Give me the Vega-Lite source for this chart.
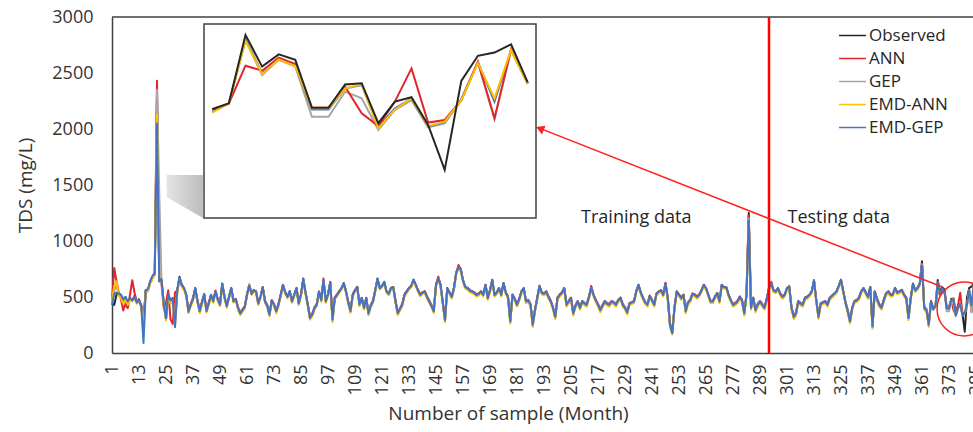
{
"$schema": "https://vega.github.io/schema/vega-lite/v6.json",
"width": 861, "height": 336,
"autosize": {"type": "none"},
"padding": {"left": 112, "top": 17, "right": 0, "bottom": 79},
"background": "white",
"config": {"view": {"stroke": null}, "font": "Open Sans", "axisX": {"labelOverlap": false, "labelFlush": false, "labelBound": false}},
"datasets": {
"d": [
{"s":1,"O":440,"A":470,"G":450,"EA":470,"EG":430},
{"s":2,"O":430,"A":760,"G":560,"EA":600,"EG":530},
{"s":3,"O":520,"A":640,"G":600,"EA":640,"EG":540},
{"s":4,"O":530,"A":540,"G":520,"EA":510,"EG":530},
{"s":5,"O":515,"A":480,"G":500,"EA":490,"EG":520},
{"s":6,"O":470,"A":380,"G":450,"EA":440,"EG":480},
{"s":7,"O":500,"A":440,"G":480,"EA":470,"EG":500},
{"s":8,"O":440,"A":400,"G":450,"EA":430,"EG":460},
{"s":9,"O":490,"A":520,"G":480,"EA":470,"EG":490},
{"s":10,"O":470,"A":650,"G":480,"EA":460,"EG":470},
{"s":11,"O":510,"A":540,"G":500,"EA":490,"EG":500},
{"s":12,"O":455,"A":460,"G":450,"EA":440,"EG":450},
{"s":13,"O":480,"A":470,"G":470,"EA":460,"EG":470},
{"s":14,"O":420,"A":430,"G":400,"EA":410,"EG":420},
{"s":15,"O":280,"A":300,"G":250,"EA":200,"EG":90},
{"s":16,"O":560,"A":560,"G":550,"EA":540,"EG":560},
{"s":17,"O":570,"A":560,"G":560,"EA":550,"EG":570},
{"s":18,"O":640,"A":630,"G":630,"EA":620,"EG":640},
{"s":19,"O":680,"A":670,"G":670,"EA":660,"EG":690},
{"s":20,"O":720,"A":700,"G":700,"EA":700,"EG":710},
{"s":21,"O":2300,"A":2430,"G":2350,"EA":2130,"EG":2050},
{"s":22,"O":640,"A":660,"G":1430,"EA":660,"EG":640},
{"s":23,"O":650,"A":620,"G":640,"EA":630,"EG":660},
{"s":24,"O":450,"A":400,"G":440,"EA":420,"EG":430},
{"s":25,"O":300,"A":450,"G":320,"EA":290,"EG":310},
{"s":26,"O":520,"A":560,"G":500,"EA":500,"EG":520},
{"s":27,"O":470,"A":300,"G":450,"EA":440,"EG":470},
{"s":28,"O":490,"A":260,"G":480,"EA":470,"EG":480},
{"s":29,"O":300,"A":540,"G":240,"EA":260,"EG":230},
{"s":30,"O":560,"A":560,"G":540,"EA":530,"EG":560},
{"s":31,"O":680,"A":665,"G":670,"EA":655,"EG":672},
{"s":32,"O":610,"A":605,"G":600,"EA":590,"EG":606},
{"s":33,"O":580,"A":572,"G":575,"EA":560,"EG":578},
{"s":34,"O":520,"A":515,"G":512,"EA":500,"EG":518},
{"s":35,"O":370,"A":385,"G":372,"EA":355,"EG":368},
{"s":36,"O":430,"A":440,"G":428,"EA":415,"EG":430},
{"s":37,"O":480,"A":495,"G":478,"EA":465,"EG":482},
{"s":38,"O":580,"A":572,"G":574,"EA":562,"EG":578},
{"s":39,"O":460,"A":472,"G":458,"EA":445,"EG":462},
{"s":40,"O":370,"A":388,"G":376,"EA":358,"EG":372},
{"s":41,"O":450,"A":462,"G":448,"EA":436,"EG":452},
{"s":42,"O":520,"A":528,"G":516,"EA":505,"EG":520},
{"s":43,"O":370,"A":382,"G":378,"EA":362,"EG":376},
{"s":44,"O":440,"A":452,"G":438,"EA":428,"EG":442},
{"s":45,"O":520,"A":512,"G":515,"EA":502,"EG":518},
{"s":46,"O":460,"A":470,"G":458,"EA":448,"EG":462},
{"s":47,"O":550,"A":558,"G":545,"EA":536,"EG":548},
{"s":48,"O":480,"A":482,"G":472,"EA":462,"EG":476},
{"s":49,"O":430,"A":442,"G":428,"EA":418,"EG":432},
{"s":50,"O":620,"A":610,"G":612,"EA":600,"EG":618},
{"s":51,"O":500,"A":502,"G":496,"EA":488,"EG":500},
{"s":52,"O":415,"A":424,"G":418,"EA":405,"EG":418},
{"s":53,"O":500,"A":502,"G":494,"EA":488,"EG":498},
{"s":54,"O":580,"A":572,"G":575,"EA":562,"EG":578},
{"s":55,"O":460,"A":472,"G":464,"EA":450,"EG":462},
{"s":56,"O":480,"A":484,"G":478,"EA":468,"EG":480},
{"s":57,"O":400,"A":412,"G":404,"EA":388,"EG":402},
{"s":58,"O":350,"A":362,"G":356,"EA":338,"EG":352},
{"s":59,"O":380,"A":392,"G":384,"EA":368,"EG":382},
{"s":60,"O":410,"A":420,"G":412,"EA":398,"EG":410},
{"s":61,"O":520,"A":522,"G":515,"EA":508,"EG":518},
{"s":62,"O":610,"A":602,"G":606,"EA":618,"EG":604},
{"s":63,"O":530,"A":532,"G":524,"EA":518,"EG":528},
{"s":64,"O":560,"A":562,"G":554,"EA":548,"EG":558},
{"s":65,"O":550,"A":552,"G":546,"EA":538,"EG":548},
{"s":66,"O":440,"A":452,"G":444,"EA":428,"EG":442},
{"s":67,"O":500,"A":502,"G":496,"EA":488,"EG":500},
{"s":68,"O":590,"A":582,"G":586,"EA":572,"EG":588},
{"s":69,"O":460,"A":470,"G":462,"EA":448,"EG":460},
{"s":70,"O":420,"A":432,"G":424,"EA":408,"EG":420},
{"s":71,"O":340,"A":358,"G":346,"EA":328,"EG":342},
{"s":72,"O":470,"A":472,"G":466,"EA":458,"EG":470},
{"s":73,"O":430,"A":440,"G":432,"EA":418,"EG":430},
{"s":74,"O":370,"A":380,"G":376,"EA":352,"EG":372},
{"s":75,"O":430,"A":442,"G":432,"EA":418,"EG":432},
{"s":76,"O":520,"A":522,"G":516,"EA":508,"EG":520},
{"s":77,"O":610,"A":602,"G":606,"EA":590,"EG":608},
{"s":78,"O":540,"A":542,"G":536,"EA":528,"EG":540},
{"s":79,"O":500,"A":502,"G":496,"EA":488,"EG":500},
{"s":80,"O":550,"A":552,"G":546,"EA":538,"EG":550},
{"s":81,"O":460,"A":470,"G":462,"EA":448,"EG":460},
{"s":82,"O":520,"A":522,"G":516,"EA":508,"EG":518},
{"s":83,"O":580,"A":576,"G":574,"EA":565,"EG":578},
{"s":84,"O":440,"A":452,"G":444,"EA":428,"EG":442},
{"s":85,"O":520,"A":522,"G":516,"EA":508,"EG":520},
{"s":86,"O":665,"A":652,"G":656,"EA":645,"EG":660},
{"s":87,"O":540,"A":542,"G":536,"EA":528,"EG":540},
{"s":88,"O":430,"A":440,"G":432,"EA":418,"EG":430},
{"s":89,"O":310,"A":330,"G":312,"EA":298,"EG":312},
{"s":90,"O":340,"A":352,"G":342,"EA":328,"EG":342},
{"s":91,"O":400,"A":410,"G":402,"EA":388,"EG":400},
{"s":92,"O":430,"A":440,"G":432,"EA":418,"EG":430},
{"s":93,"O":550,"A":546,"G":545,"EA":535,"EG":548},
{"s":94,"O":470,"A":480,"G":472,"EA":458,"EG":470},
{"s":95,"O":650,"A":665,"G":646,"EA":635,"EG":648},
{"s":96,"O":460,"A":470,"G":462,"EA":448,"EG":460},
{"s":97,"O":520,"A":522,"G":516,"EA":505,"EG":518},
{"s":98,"O":635,"A":626,"G":630,"EA":620,"EG":632},
{"s":99,"O":295,"A":312,"G":292,"EA":275,"EG":298},
{"s":100,"O":490,"A":496,"G":486,"EA":476,"EG":490},
{"s":101,"O":520,"A":524,"G":515,"EA":505,"EG":518},
{"s":102,"O":550,"A":552,"G":546,"EA":536,"EG":548},
{"s":103,"O":580,"A":576,"G":576,"EA":565,"EG":578},
{"s":104,"O":625,"A":618,"G":620,"EA":608,"EG":620},
{"s":105,"O":550,"A":552,"G":546,"EA":536,"EG":548},
{"s":106,"O":450,"A":460,"G":452,"EA":438,"EG":450},
{"s":107,"O":370,"A":385,"G":374,"EA":358,"EG":375},
{"s":108,"O":520,"A":524,"G":516,"EA":505,"EG":518},
{"s":109,"O":560,"A":562,"G":556,"EA":546,"EG":558},
{"s":110,"O":590,"A":584,"G":586,"EA":575,"EG":588},
{"s":111,"O":430,"A":442,"G":434,"EA":418,"EG":432},
{"s":112,"O":490,"A":494,"G":486,"EA":476,"EG":490},
{"s":113,"O":400,"A":412,"G":404,"EA":388,"EG":402},
{"s":114,"O":490,"A":494,"G":486,"EA":476,"EG":488},
{"s":115,"O":350,"A":366,"G":356,"EA":338,"EG":352},
{"s":116,"O":420,"A":430,"G":424,"EA":408,"EG":422},
{"s":117,"O":460,"A":468,"G":462,"EA":448,"EG":460},
{"s":118,"O":560,"A":562,"G":556,"EA":546,"EG":558},
{"s":119,"O":665,"A":655,"G":660,"EA":645,"EG":660},
{"s":120,"O":580,"A":582,"G":576,"EA":566,"EG":578},
{"s":121,"O":600,"A":598,"G":596,"EA":586,"EG":598},
{"s":122,"O":635,"A":628,"G":630,"EA":618,"EG":632},
{"s":123,"O":550,"A":552,"G":546,"EA":536,"EG":548},
{"s":124,"O":530,"A":532,"G":526,"EA":516,"EG":528},
{"s":125,"O":580,"A":582,"G":576,"EA":566,"EG":578},
{"s":126,"O":590,"A":586,"G":586,"EA":576,"EG":588},
{"s":127,"O":460,"A":470,"G":462,"EA":448,"EG":460},
{"s":128,"O":350,"A":366,"G":356,"EA":338,"EG":354},
{"s":129,"O":390,"A":400,"G":394,"EA":378,"EG":392},
{"s":130,"O":430,"A":440,"G":432,"EA":418,"EG":430},
{"s":131,"O":520,"A":524,"G":516,"EA":506,"EG":518},
{"s":132,"O":550,"A":552,"G":546,"EA":536,"EG":548},
{"s":133,"O":580,"A":582,"G":576,"EA":566,"EG":578},
{"s":134,"O":600,"A":598,"G":596,"EA":586,"EG":598},
{"s":135,"O":655,"A":648,"G":650,"EA":636,"EG":652},
{"s":136,"O":610,"A":606,"G":606,"EA":594,"EG":608},
{"s":137,"O":560,"A":562,"G":556,"EA":546,"EG":558},
{"s":138,"O":520,"A":524,"G":516,"EA":506,"EG":518},
{"s":139,"O":540,"A":542,"G":536,"EA":526,"EG":538},
{"s":140,"O":550,"A":550,"G":546,"EA":536,"EG":548},
{"s":141,"O":500,"A":506,"G":496,"EA":486,"EG":500},
{"s":142,"O":460,"A":468,"G":462,"EA":446,"EG":460},
{"s":143,"O":420,"A":430,"G":424,"EA":406,"EG":420},
{"s":144,"O":370,"A":384,"G":376,"EA":356,"EG":372},
{"s":145,"O":610,"A":602,"G":604,"EA":592,"EG":606},
{"s":146,"O":670,"A":682,"G":664,"EA":650,"EG":664},
{"s":147,"O":610,"A":606,"G":604,"EA":594,"EG":608},
{"s":148,"O":450,"A":460,"G":452,"EA":436,"EG":450},
{"s":149,"O":290,"A":305,"G":294,"EA":275,"EG":292},
{"s":150,"O":580,"A":576,"G":574,"EA":562,"EG":576},
{"s":151,"O":540,"A":542,"G":536,"EA":526,"EG":538},
{"s":152,"O":500,"A":506,"G":496,"EA":486,"EG":500},
{"s":153,"O":580,"A":582,"G":576,"EA":566,"EG":578},
{"s":154,"O":720,"A":716,"G":714,"EA":700,"EG":716},
{"s":155,"O":770,"A":785,"G":764,"EA":748,"EG":764},
{"s":156,"O":750,"A":746,"G":744,"EA":730,"EG":746},
{"s":157,"O":650,"A":648,"G":644,"EA":632,"EG":646},
{"s":158,"O":590,"A":588,"G":586,"EA":574,"EG":588},
{"s":159,"O":580,"A":582,"G":576,"EA":564,"EG":578},
{"s":160,"O":560,"A":562,"G":556,"EA":544,"EG":558},
{"s":161,"O":550,"A":552,"G":546,"EA":534,"EG":548},
{"s":162,"O":540,"A":542,"G":536,"EA":524,"EG":538},
{"s":163,"O":520,"A":524,"G":516,"EA":504,"EG":518},
{"s":164,"O":530,"A":532,"G":526,"EA":514,"EG":528},
{"s":165,"O":550,"A":550,"G":546,"EA":534,"EG":548},
{"s":166,"O":520,"A":524,"G":516,"EA":504,"EG":518},
{"s":167,"O":610,"A":604,"G":604,"EA":594,"EG":606},
{"s":168,"O":490,"A":498,"G":486,"EA":474,"EG":490},
{"s":169,"O":560,"A":562,"G":556,"EA":544,"EG":558},
{"s":170,"O":655,"A":648,"G":650,"EA":636,"EG":652},
{"s":171,"O":520,"A":524,"G":516,"EA":504,"EG":518},
{"s":172,"O":540,"A":542,"G":536,"EA":524,"EG":538},
{"s":173,"O":580,"A":578,"G":576,"EA":564,"EG":578},
{"s":174,"O":520,"A":524,"G":516,"EA":504,"EG":518},
{"s":175,"O":625,"A":620,"G":620,"EA":606,"EG":622},
{"s":176,"O":540,"A":542,"G":536,"EA":524,"EG":538},
{"s":177,"O":500,"A":506,"G":496,"EA":484,"EG":500},
{"s":178,"O":280,"A":298,"G":284,"EA":262,"EG":282},
{"s":179,"O":520,"A":522,"G":516,"EA":504,"EG":518},
{"s":180,"O":480,"A":486,"G":476,"EA":464,"EG":480},
{"s":181,"O":430,"A":440,"G":434,"EA":414,"EG":430},
{"s":182,"O":480,"A":486,"G":476,"EA":464,"EG":480},
{"s":183,"O":550,"A":550,"G":546,"EA":534,"EG":548},
{"s":184,"O":580,"A":576,"G":576,"EA":564,"EG":578},
{"s":185,"O":460,"A":468,"G":462,"EA":446,"EG":460},
{"s":186,"O":470,"A":476,"G":466,"EA":454,"EG":470},
{"s":187,"O":430,"A":440,"G":434,"EA":414,"EG":430},
{"s":188,"O":250,"A":268,"G":254,"EA":232,"EG":252},
{"s":189,"O":380,"A":392,"G":384,"EA":366,"EG":382},
{"s":190,"O":490,"A":496,"G":486,"EA":474,"EG":490},
{"s":191,"O":600,"A":596,"G":596,"EA":582,"EG":596},
{"s":192,"O":540,"A":542,"G":536,"EA":524,"EG":538},
{"s":193,"O":530,"A":532,"G":526,"EA":514,"EG":528},
{"s":194,"O":550,"A":550,"G":546,"EA":534,"EG":548},
{"s":195,"O":500,"A":506,"G":496,"EA":484,"EG":500},
{"s":196,"O":460,"A":468,"G":462,"EA":446,"EG":460},
{"s":197,"O":400,"A":410,"G":404,"EA":386,"EG":402},
{"s":198,"O":320,"A":336,"G":326,"EA":304,"EG":322},
{"s":199,"O":490,"A":496,"G":486,"EA":474,"EG":490},
{"s":200,"O":520,"A":522,"G":516,"EA":504,"EG":518},
{"s":201,"O":540,"A":542,"G":536,"EA":524,"EG":538},
{"s":202,"O":580,"A":576,"G":576,"EA":564,"EG":578},
{"s":203,"O":430,"A":440,"G":434,"EA":414,"EG":430},
{"s":204,"O":460,"A":468,"G":462,"EA":446,"EG":460},
{"s":205,"O":490,"A":496,"G":486,"EA":474,"EG":490},
{"s":206,"O":350,"A":364,"G":356,"EA":334,"EG":352},
{"s":207,"O":420,"A":430,"G":424,"EA":406,"EG":420},
{"s":208,"O":460,"A":466,"G":462,"EA":446,"EG":460},
{"s":209,"O":400,"A":410,"G":404,"EA":386,"EG":402},
{"s":210,"O":460,"A":466,"G":462,"EA":446,"EG":460},
{"s":211,"O":440,"A":448,"G":442,"EA":426,"EG":440},
{"s":212,"O":430,"A":440,"G":434,"EA":414,"EG":430},
{"s":213,"O":500,"A":506,"G":496,"EA":484,"EG":500},
{"s":214,"O":585,"A":598,"G":580,"EA":566,"EG":580},
{"s":215,"O":520,"A":522,"G":516,"EA":504,"EG":518},
{"s":216,"O":470,"A":476,"G":466,"EA":454,"EG":470},
{"s":217,"O":430,"A":440,"G":434,"EA":414,"EG":430},
{"s":218,"O":380,"A":392,"G":386,"EA":364,"EG":382},
{"s":219,"O":420,"A":430,"G":424,"EA":406,"EG":420},
{"s":220,"O":460,"A":466,"G":462,"EA":446,"EG":460},
{"s":221,"O":440,"A":448,"G":442,"EA":426,"EG":440},
{"s":222,"O":430,"A":440,"G":434,"EA":414,"EG":430},
{"s":223,"O":460,"A":466,"G":462,"EA":446,"EG":460},
{"s":224,"O":450,"A":456,"G":452,"EA":436,"EG":450},
{"s":225,"O":430,"A":440,"G":434,"EA":414,"EG":430},
{"s":226,"O":470,"A":476,"G":466,"EA":454,"EG":470},
{"s":227,"O":495,"A":492,"G":488,"EA":478,"EG":490},
{"s":228,"O":430,"A":440,"G":434,"EA":414,"EG":430},
{"s":229,"O":400,"A":410,"G":404,"EA":386,"EG":402},
{"s":230,"O":360,"A":374,"G":366,"EA":344,"EG":362},
{"s":231,"O":440,"A":448,"G":442,"EA":426,"EG":440},
{"s":232,"O":450,"A":456,"G":452,"EA":436,"EG":450},
{"s":233,"O":460,"A":466,"G":462,"EA":446,"EG":460},
{"s":234,"O":550,"A":550,"G":546,"EA":534,"EG":548},
{"s":235,"O":610,"A":604,"G":604,"EA":592,"EG":606},
{"s":236,"O":540,"A":542,"G":536,"EA":524,"EG":538},
{"s":237,"O":490,"A":496,"G":486,"EA":474,"EG":490},
{"s":238,"O":450,"A":456,"G":452,"EA":436,"EG":450},
{"s":239,"O":430,"A":440,"G":434,"EA":414,"EG":430},
{"s":240,"O":510,"A":514,"G":506,"EA":494,"EG":510},
{"s":241,"O":470,"A":476,"G":466,"EA":454,"EG":470},
{"s":242,"O":430,"A":440,"G":434,"EA":414,"EG":430},
{"s":243,"O":530,"A":532,"G":526,"EA":514,"EG":528},
{"s":244,"O":550,"A":550,"G":546,"EA":534,"EG":548},
{"s":245,"O":560,"A":560,"G":556,"EA":544,"EG":558},
{"s":246,"O":520,"A":524,"G":516,"EA":504,"EG":518},
{"s":247,"O":620,"A":628,"G":614,"EA":602,"EG":616},
{"s":248,"O":490,"A":496,"G":486,"EA":474,"EG":490},
{"s":249,"O":250,"A":266,"G":254,"EA":234,"EG":248},
{"s":250,"O":180,"A":198,"G":184,"EA":166,"EG":176},
{"s":251,"O":400,"A":410,"G":404,"EA":386,"EG":402},
{"s":252,"O":550,"A":550,"G":546,"EA":534,"EG":548},
{"s":253,"O":520,"A":524,"G":516,"EA":504,"EG":518},
{"s":254,"O":490,"A":496,"G":486,"EA":474,"EG":490},
{"s":255,"O":520,"A":522,"G":516,"EA":504,"EG":518},
{"s":256,"O":370,"A":384,"G":376,"EA":354,"EG":372},
{"s":257,"O":450,"A":456,"G":452,"EA":436,"EG":450},
{"s":258,"O":470,"A":476,"G":466,"EA":454,"EG":470},
{"s":259,"O":530,"A":532,"G":526,"EA":514,"EG":528},
{"s":260,"O":520,"A":524,"G":516,"EA":504,"EG":518},
{"s":261,"O":500,"A":506,"G":496,"EA":484,"EG":500},
{"s":262,"O":520,"A":522,"G":516,"EA":504,"EG":518},
{"s":263,"O":560,"A":560,"G":556,"EA":544,"EG":558},
{"s":264,"O":610,"A":606,"G":604,"EA":592,"EG":606},
{"s":265,"O":580,"A":578,"G":576,"EA":564,"EG":578},
{"s":266,"O":520,"A":524,"G":516,"EA":504,"EG":518},
{"s":267,"O":460,"A":468,"G":462,"EA":446,"EG":460},
{"s":268,"O":460,"A":466,"G":462,"EA":446,"EG":460},
{"s":269,"O":500,"A":506,"G":496,"EA":484,"EG":500},
{"s":270,"O":535,"A":536,"G":530,"EA":518,"EG":532},
{"s":271,"O":460,"A":468,"G":462,"EA":446,"EG":460},
{"s":272,"O":610,"A":604,"G":604,"EA":592,"EG":606},
{"s":273,"O":590,"A":588,"G":586,"EA":574,"EG":588},
{"s":274,"O":590,"A":586,"G":586,"EA":574,"EG":588},
{"s":275,"O":520,"A":524,"G":516,"EA":504,"EG":518},
{"s":276,"O":470,"A":476,"G":466,"EA":454,"EG":470},
{"s":277,"O":430,"A":440,"G":434,"EA":414,"EG":430},
{"s":278,"O":440,"A":448,"G":442,"EA":426,"EG":440},
{"s":279,"O":460,"A":466,"G":462,"EA":446,"EG":460},
{"s":280,"O":500,"A":506,"G":496,"EA":484,"EG":500},
{"s":281,"O":470,"A":476,"G":466,"EA":454,"EG":470},
{"s":282,"O":350,"A":364,"G":356,"EA":334,"EG":352},
{"s":283,"O":520,"A":522,"G":516,"EA":504,"EG":518},
{"s":284,"O":1250,"A":1230,"G":1200,"EA":1150,"EG":1180},
{"s":285,"O":400,"A":412,"G":404,"EA":386,"EG":402},
{"s":286,"O":490,"A":496,"G":486,"EA":474,"EG":490},
{"s":287,"O":380,"A":392,"G":386,"EA":364,"EG":382},
{"s":288,"O":430,"A":440,"G":434,"EA":414,"EG":430},
{"s":289,"O":460,"A":466,"G":462,"EA":446,"EG":460},
{"s":290,"O":430,"A":440,"G":434,"EA":414,"EG":430},
{"s":291,"O":400,"A":410,"G":404,"EA":386,"EG":402},
{"s":292,"O":480,"A":488,"G":476,"EA":464,"EG":480},
{"s":293,"O":580,"A":584,"G":576,"EA":564,"EG":578},
{"s":294,"O":625,"A":636,"G":620,"EA":606,"EG":620},
{"s":295,"O":560,"A":562,"G":556,"EA":544,"EG":558},
{"s":296,"O":550,"A":550,"G":546,"EA":534,"EG":548},
{"s":297,"O":580,"A":576,"G":576,"EA":564,"EG":578},
{"s":298,"O":530,"A":532,"G":526,"EA":514,"EG":528},
{"s":299,"O":500,"A":506,"G":496,"EA":484,"EG":500},
{"s":300,"O":520,"A":522,"G":516,"EA":504,"EG":518},
{"s":301,"O":580,"A":578,"G":576,"EA":564,"EG":578},
{"s":302,"O":590,"A":598,"G":586,"EA":574,"EG":588},
{"s":303,"O":400,"A":410,"G":404,"EA":386,"EG":402},
{"s":304,"O":320,"A":336,"G":326,"EA":304,"EG":322},
{"s":305,"O":350,"A":364,"G":356,"EA":334,"EG":352},
{"s":306,"O":460,"A":466,"G":462,"EA":446,"EG":460},
{"s":307,"O":440,"A":448,"G":442,"EA":426,"EG":440},
{"s":308,"O":430,"A":440,"G":434,"EA":414,"EG":430},
{"s":309,"O":490,"A":496,"G":486,"EA":474,"EG":490},
{"s":310,"O":500,"A":506,"G":496,"EA":484,"EG":500},
{"s":311,"O":520,"A":522,"G":516,"EA":504,"EG":518},
{"s":312,"O":550,"A":550,"G":546,"EA":534,"EG":548},
{"s":313,"O":650,"A":644,"G":644,"EA":632,"EG":646},
{"s":314,"O":470,"A":476,"G":466,"EA":454,"EG":470},
{"s":315,"O":320,"A":336,"G":326,"EA":304,"EG":322},
{"s":316,"O":440,"A":448,"G":442,"EA":426,"EG":440},
{"s":317,"O":450,"A":456,"G":452,"EA":436,"EG":450},
{"s":318,"O":460,"A":466,"G":462,"EA":446,"EG":460},
{"s":319,"O":430,"A":440,"G":434,"EA":414,"EG":430},
{"s":320,"O":490,"A":496,"G":486,"EA":474,"EG":490},
{"s":321,"O":510,"A":514,"G":506,"EA":494,"EG":510},
{"s":322,"O":530,"A":532,"G":526,"EA":514,"EG":528},
{"s":323,"O":550,"A":550,"G":546,"EA":534,"EG":548},
{"s":324,"O":600,"A":598,"G":596,"EA":584,"EG":598},
{"s":325,"O":655,"A":650,"G":650,"EA":636,"EG":652},
{"s":326,"O":550,"A":550,"G":546,"EA":534,"EG":548},
{"s":327,"O":450,"A":456,"G":452,"EA":436,"EG":450},
{"s":328,"O":370,"A":384,"G":376,"EA":354,"EG":372},
{"s":329,"O":280,"A":298,"G":286,"EA":264,"EG":282},
{"s":330,"O":400,"A":410,"G":404,"EA":386,"EG":402},
{"s":331,"O":460,"A":466,"G":462,"EA":446,"EG":460},
{"s":332,"O":470,"A":476,"G":466,"EA":454,"EG":470},
{"s":333,"O":490,"A":496,"G":486,"EA":474,"EG":490},
{"s":334,"O":550,"A":550,"G":546,"EA":534,"EG":548},
{"s":335,"O":580,"A":578,"G":576,"EA":564,"EG":578},
{"s":336,"O":540,"A":542,"G":536,"EA":524,"EG":538},
{"s":337,"O":500,"A":506,"G":496,"EA":484,"EG":500},
{"s":338,"O":590,"A":588,"G":586,"EA":574,"EG":588},
{"s":339,"O":235,"A":252,"G":240,"EA":218,"EG":236},
{"s":340,"O":550,"A":550,"G":546,"EA":534,"EG":548},
{"s":341,"O":480,"A":486,"G":476,"EA":464,"EG":480},
{"s":342,"O":430,"A":440,"G":434,"EA":414,"EG":430},
{"s":343,"O":400,"A":410,"G":404,"EA":386,"EG":402},
{"s":344,"O":470,"A":476,"G":466,"EA":454,"EG":470},
{"s":345,"O":530,"A":532,"G":526,"EA":514,"EG":528},
{"s":346,"O":550,"A":550,"G":546,"EA":534,"EG":548},
{"s":347,"O":520,"A":524,"G":516,"EA":504,"EG":518},
{"s":348,"O":520,"A":522,"G":516,"EA":504,"EG":518},
{"s":349,"O":580,"A":578,"G":576,"EA":564,"EG":578},
{"s":350,"O":540,"A":542,"G":536,"EA":524,"EG":538},
{"s":351,"O":550,"A":550,"G":546,"EA":534,"EG":548},
{"s":352,"O":565,"A":562,"G":560,"EA":548,"EG":562},
{"s":353,"O":520,"A":524,"G":516,"EA":504,"EG":518},
{"s":354,"O":490,"A":496,"G":486,"EA":474,"EG":490},
{"s":355,"O":310,"A":326,"G":316,"EA":294,"EG":312},
{"s":356,"O":490,"A":496,"G":486,"EA":474,"EG":490},
{"s":357,"O":620,"A":616,"G":614,"EA":602,"EG":616},
{"s":358,"O":560,"A":560,"G":556,"EA":544,"EG":558},
{"s":359,"O":580,"A":578,"G":576,"EA":564,"EG":578},
{"s":360,"O":620,"A":616,"G":614,"EA":602,"EG":616},
{"s":361,"O":820,"A":800,"G":790,"EA":760,"EG":780},
{"s":362,"O":400,"A":410,"G":404,"EA":386,"EG":402},
{"s":363,"O":380,"A":392,"G":386,"EA":364,"EG":382},
{"s":364,"O":250,"A":268,"G":256,"EA":234,"EG":252},
{"s":365,"O":460,"A":466,"G":462,"EA":446,"EG":460},
{"s":366,"O":398,"A":398,"G":389,"EA":386,"EG":389},
{"s":367,"O":418,"A":418,"G":418,"EA":418,"EG":418},
{"s":368,"O":652,"A":547,"G":635,"EA":633,"EG":637},
{"s":369,"O":544,"A":530,"G":515,"EA":519,"EG":521},
{"s":370,"O":586,"A":575,"G":567,"EA":569,"EG":571},
{"s":371,"O":567,"A":553,"G":544,"EA":546,"EG":548},
{"s":372,"O":403,"A":403,"G":372,"EA":401,"EG":397},
{"s":373,"O":403,"A":403,"G":372,"EA":401,"EG":397},
{"s":374,"O":483,"A":475,"G":458,"EA":469,"EG":469},
{"s":375,"O":487,"A":384,"G":435,"EA":483,"EG":481},
{"s":376,"O":350,"A":340,"G":327,"EA":332,"EG":336},
{"s":377,"O":424,"A":424,"G":395,"EA":397,"EG":401},
{"s":378,"O":439,"A":538,"G":429,"EA":435,"EG":434},
{"s":379,"O":344,"A":352,"G":336,"EA":340,"EG":338},
{"s":380,"O":190,"A":361,"G":349,"EA":355,"EG":354},
{"s":381,"O":495,"A":429,"G":429,"EA":429,"EG":432},
{"s":382,"O":581,"A":561,"G":557,"EA":557,"EG":560},
{"s":383,"O":592,"A":367,"G":363,"EA":435,"EG":424},
{"s":384,"O":620,"A":603,"G":601,"EA":601,"EG":602},
{"s":385,"O":490,"A":487,"G":484,"EA":484,"EG":487}
]
},
"layer": [
{
"layer": [
{
"data": {"values": [{"x": 25.3, "t": 1590, "b": 1393}, {"x": 41.4, "t": 1590, "b": 1205}]},
"mark": {"type": "area", "color": {"gradient": "linear", "x1": 0, "y1": 0, "x2": 1, "y2": 0, "stops": [{"offset": 0, "color": "#e4e4e4"}, {"offset": 1, "color": "#bcbcbc"}]}},
"encoding": {
"x": {"field": "x", "type": "quantitative", "scale": {"domain": [1, 385], "range": [0, 864], "nice": false, "zero": false}},
"y": {"field": "t", "type": "quantitative"},
"y2": {"field": "b"}
}
},
{
"data": {"name": "d"},
"transform": [{"fold": ["O", "A", "G", "EA", "EG"], "as": ["k", "v"]}],
"mark": {"type": "line", "strokeWidth": 2, "strokeJoin": "round"},
"encoding": {
"x": {"field": "s", "type": "quantitative",
"scale": {"domain": [1, 385], "range": [0, 864], "nice": false, "zero": false},
"axis": {"values": [1,13,25,37,49,61,73,85,97,109,121,133,145,157,169,181,193,205,217,229,241,253,265,277,289,301,313,325,337,349,361,373,385],
"tickCount": 60,
"labelAngle": -90, "labelAlign": "right", "labelBaseline": "middle", "labelPadding": 11, "labelFontSize": 18, "labelColor": "#333333", "labelFont": "Open Sans",
"labelOverlap": false, "labelFlush": false, "labelBound": false,
"ticks": false, "grid": false, "domainColor": "#404040", "domainWidth": 1.5,
"title": "Number of sample (Month)", "titleFontSize": 19, "titleFontWeight": "normal", "titleFont": "Open Sans", "titleColor": "#333333",
"titleX": 396, "titleY": 66, "titleBaseline": "alphabetic", "titleAnchor": "middle"}},
"y": {"field": "v", "type": "quantitative",
"scale": {"domain": [0, 3000], "nice": false, "zero": true},
"axis": {"values": [0,500,1000,1500,2000,2500,3000], "format": "d", "ticks": false, "grid": false, "labelFontSize": 18, "labelColor": "#333333", "labelPadding": 19,
"domainColor": "#404040", "domainWidth": 1.5,
"title": "TDS (mg/L)", "titleFontSize": 19, "titleFontWeight": "normal", "titleColor": "#333333", "titlePadding": 16}},
"color": {"field": "k", "type": "nominal",
"scale": {"domain": ["O", "A", "G", "EA", "EG"], "range": ["#262626", "#e0262b", "#a6a6a6", "#ffc000", "#4472c4"]},
"legend": {"orient": "none", "legendX": 726, "legendY": 4, "title": null, "symbolType": "stroke", "symbolSize": 729, "symbolStrokeWidth": 1.5,
"labelFontSize": 17, "labelColor": "#262626", "labelOffset": 2, "rowPadding": 0, "padding": 0,
"labelExpr": "{'O':'Observed','A':'ANN','G':'GEP','EA':'EMD-ANN','EG':'EMD-GEP'}[datum.label]"}}
}
},
{
"data": {"values": [{"v": 3000}]},
"mark": {"type": "rule", "color": "#404040", "strokeWidth": 1.5},
"encoding": {"y": {"field": "v", "type": "quantitative"}}
},
{
"data": {"values": [{"x": 293}]},
"mark": {"type": "rule", "color": "#ff0000", "strokeWidth": 2.5},
"encoding": {"x": {"field": "x", "type": "quantitative"}}
},
{
"data": {"values": [{"x": 234, "y": 1205, "t": "Training data"}, {"x": 324, "y": 1205, "t": "Testing data"}]},
"mark": {"type": "text", "fontSize": 18, "font": "Open Sans", "color": "#262626"},
"encoding": {"x": {"field": "x", "type": "quantitative"}, "y": {"field": "y", "type": "quantitative"}, "text": {"field": "t"}}
},
{
"data": {"values": [{"x1": 369.8, "y1": 592, "x2": 191.5, "y2": 2003}]},
"mark": {"type": "rule", "color": "#ff2020", "strokeWidth": 1.5},
"encoding": {"x": {"field": "x1", "type": "quantitative"}, "y": {"field": "y1", "type": "quantitative"}, "x2": {"field": "x2"}, "y2": {"field": "y2"}}
},
{
"data": {"values": [{"x": 191.2, "y": 2004}]},
"mark": {"type": "point", "shape": "triangle-up", "filled": true, "color": "#ff2020", "size": 90, "angle": 291.5, "opacity": 1},
"encoding": {"x": {"field": "x", "type": "quantitative"}, "y": {"field": "y", "type": "quantitative"}}
},
{
"data": {"values": [{"x": 379.7, "y": 393}]},
"mark": {"type": "point", "shape": "circle", "filled": false, "color": "#ff2020", "strokeWidth": 1.5, "size": 2916, "opacity": 1},
"encoding": {"x": {"field": "x", "type": "quantitative"}, "y": {"field": "y", "type": "quantitative"}}
}
]
},
{
"layer": [
{
"data": {"values": [{"a": 365.5, "b": 385.5, "c": 25, "d": 690}]},
"mark": {"type": "rect", "fill": "white", "stroke": "#404040", "strokeWidth": 1.5},
"encoding": {
"x": {"field": "a", "type": "quantitative", "scale": {"domain": [365.5, 385.5], "range": [92, 424], "nice": false, "zero": false}, "axis": null},
"x2": {"field": "b"},
"y": {"field": "c", "type": "quantitative", "scale": {"domain": [25, 690], "range": [201, 7], "nice": false, "zero": false}, "axis": null},
"y2": {"field": "d"}
}
},
{
"data": {"name": "d"},
"transform": [{"filter": "datum.s >= 366"}, {"fold": ["G", "EG", "A", "EA", "O"], "as": ["k", "v"]}],
"mark": {"type": "line", "strokeWidth": 2},
"encoding": {
"x": {"field": "s", "type": "quantitative", "scale": {"domain": [365.5, 385.5], "range": [92, 424], "nice": false, "zero": false}, "axis": null},
"y": {"field": "v", "type": "quantitative", "scale": {"domain": [25, 690], "range": [201, 7], "nice": false, "zero": false}, "axis": null},
"color": {"field": "k", "type": "nominal", "legend": null}
}
}
]
}
],
"resolve": {"scale": {"x": "independent", "y": "independent"}}
}
